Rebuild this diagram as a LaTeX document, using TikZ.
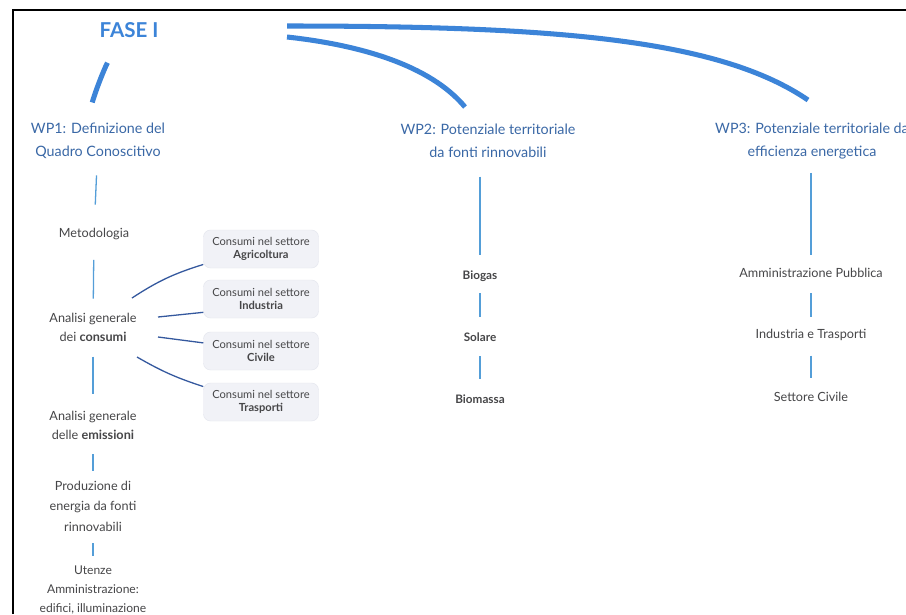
\documentclass[tikz,border=0pt]{standalone}
\usepackage{fontspec}
\setmainfont{Lato}

\definecolor{faseblue}{RGB}{60,132,216}
\definecolor{wpblue}{RGB}{58,104,166}
\definecolor{colblue}{RGB}{84,158,216}
\definecolor{subblue}{RGB}{52,88,158}
\definecolor{itemgray}{RGB}{70,70,72}
\definecolor{boxfill}{RGB}{241,242,247}
\definecolor{boxline}{RGB}{228,230,238}

\tikzset{
  frame/.style={black, line width=2.4pt},
  fasetitle/.style={faseblue, font=\fontsize{17.5}{20}\selectfont\bfseries, inner sep=0pt},
  fasebranch/.style={faseblue, line width=4.3pt},
  wptitle/.style={wpblue, font=\fontsize{12.2}{19.6}\selectfont, align=center, inner sep=0pt},
  item/.style={itemgray, font=\fontsize{10.8}{16.2}\selectfont, align=center, inner sep=0pt},
  smallitem/.style={item, font=\fontsize{10.3}{16.2}\selectfont},
  bolditem/.style={item, font=\fontsize{10}{12}\selectfont\bfseries},
  sectorbox/.style={fill=boxfill, draw=boxline, line width=0.4pt, rounded corners=6pt,
    minimum width=3.45cm, minimum height=1.14cm, inner sep=0pt, align=center,
    text=itemgray, font=\fontsize{9.5}{11.5}\selectfont},
  colline/.style={colblue, line width=1.1pt},
  subline/.style={subblue, line width=1.1pt}
}

\begin{document}
\begin{tikzpicture}[x=0.03cm,y=-0.03cm]
\useasboundingbox (0,0) rectangle (906,614);
\clip (0,0) rectangle (906,614);
\fill[white] (0,0) rectangle (906,614);
\draw[frame] (13,614) -- (13,10) -- (906,10);

% fase e work package
\node[fasetitle] (fase) at (129,30) {FASE I};
\node[wptitle] (wp1) at (98,141) {WP1: Definizione del\\Quadro Conoscitivo};
\node[wptitle] (wp2) at (488,141) {WP2: Potenziale territoriale\\da fonti rinnovabili};
\node[wptitle] (wp3) at (812,141) {WP3: Potenziale territoriale da\\efficienza energetica};
\coordinate (r2) at (287,37);
\coordinate (r3) at (287,26);
\coordinate (t2) at (465,107);
\coordinate (t3) at (808,100);
\draw[fasebranch, shorten <=23.8pt, shorten >=18.3pt] ([xshift=-7.7pt]fase.south) to[bend right=5] ([xshift=-10.2pt]wp1.north);
\draw[fasebranch] (r2) .. controls (360,45) and (430,65) .. (t2);
\draw[fasebranch] (r3) .. controls (560,26) and (720,40) .. (t3);

% WP1
\node[item] (meto) at (94,234) {Metodologia};
\node[item] (cons) at (93,327) {Analisi generale\\dei \textbf{consumi}};
\node[item] (emis) at (93,425) {Analisi generale\\delle \textbf{emissioni}};
\node[item, font=\fontsize{10.8}{17.5}\selectfont] (prod) at (93,506) {Produzione di\\energia da fonti\\rinnovabili};
\node[smallitem] (uten) at (93,590) {Utenze\\Amministrazione:\\edifici, illuminazione};
\draw[colline, shorten <=14pt, shorten >=20pt] (wp1) -- (meto);
\draw[colline, shorten <=17pt, shorten >=12pt] (meto) -- (cons);
\draw[colline, shorten <=13pt, shorten >=14.5pt] (cons) -- (emis);
\draw[colline, shorten <=12.8pt, shorten >=8pt] (emis) -- (prod);
\draw[colline, shorten <=10pt, shorten >=8.5pt] (prod) -- (uten);

% consumi per settore
\node[sectorbox] (agri) at (261,249) {Consumi nel settore\\\textbf{Agricoltura}};
\node[sectorbox] (indu) at (261,299) {Consumi nel settore\\\textbf{Industria}};
\node[sectorbox] (civi) at (261,351) {Consumi nel settore\\\textbf{Civile}};
\node[sectorbox] (tras) at (261,402) {Consumi nel settore\\\textbf{Trasporti}};
\coordinate (c1) at (132,298);
\coordinate (c2) at (158,317);
\coordinate (c3) at (158,337);
\coordinate (c4) at (137,357);
\draw[subline] (c1) to[bend left=8] (agri.195);
\draw[subline] (c2) -- (indu.193);
\draw[subline] (c3) -- (civi.172);
\draw[subline] (c4) to[bend right=6] (tras.165);

% WP2
\node[bolditem] (biog) at (480,276) {Biogas};
\node[bolditem] (sola) at (480,337) {Solare};
\node[bolditem] (biom) at (480,399) {Biomassa};
\draw[colline, shorten <=15.9pt, shorten >=13.2pt] (wp2.south -| biog) -- (biog);
\draw[colline, shorten <=9.8pt, shorten >=13.4pt] (biog) -- (sola);
\draw[colline, shorten <=12.5pt, shorten >=13.4pt] (sola) -- (biom);

% WP3
\node[item] (ammi) at (811,273) {Amministrazione Pubblica};
\node[item] (intr) at (811,335) {Industria e Trasporti};
\node[item] (sett) at (811,397) {Settore Civile};
\draw[colline, shorten <=11.6pt, shorten >=11.4pt] (wp3.south -| ammi) -- (ammi);
\draw[colline, shorten <=13.1pt, shorten >=10.2pt] (ammi) -- (intr);
\draw[colline, shorten <=12.4pt, shorten >=12.3pt] (intr) -- (sett);
\end{tikzpicture}
\end{document}
